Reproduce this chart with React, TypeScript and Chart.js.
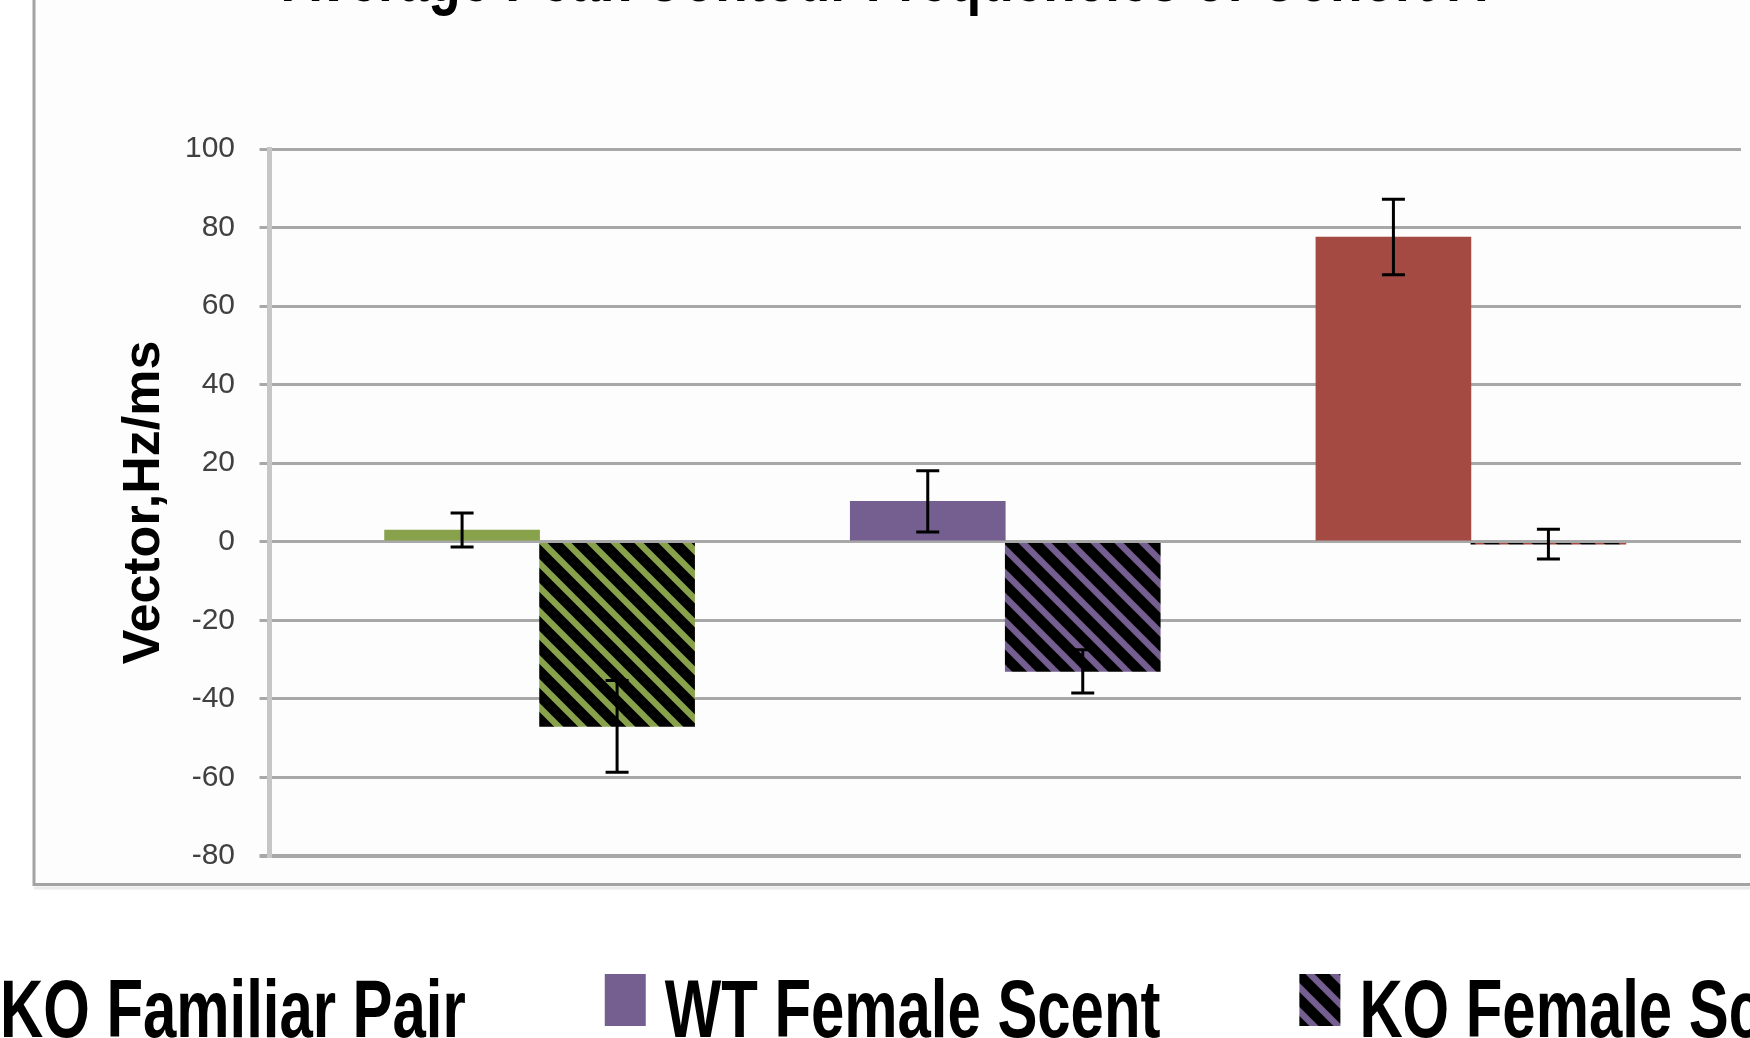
import React, { useEffect, useRef } from 'react';
import { Chart, registerables } from 'chart.js';

Chart.register(...registerables);

// ---- data ----
const TITLE = 'Average Peak Contour Frequencies of Cohort A';
const Y_TITLE = 'Vector,Hz/ms';
const conditions = ['Familiar Pair', 'Female Scent', 'Male Scent'];
const conditionX = [1, 2, 3];
const wtMeans = [3, 10.3, 77.6];
const wtErrors = [4.3, 7.8, 9.6];
const koMeans = [-47, -33, -0.6];
const koErrors = [11.7, 5.5, 3.8];
const yTickValues = [-80, -60, -40, -20, 0, 20, 40, 60, 80, 100];
const conditionColors = ['#88A24C', '#755F91', '#A44A42'];

function makeHatch(color: string): CanvasPattern | string {
  const size = 24;
  const c = document.createElement('canvas');
  c.width = size;
  c.height = size;
  const g = c.getContext('2d');
  if (!g) return color;
  g.fillStyle = '#000000';
  g.fillRect(0, 0, size, size);
  g.strokeStyle = color;
  g.lineWidth = 6.4;
  for (const o of [-size, 0, size]) {
    g.beginPath();
    g.moveTo(o - 6, -6);
    g.lineTo(o + size + 6, size + 6);
    g.stroke();
  }
  return g.createPattern(c, 'repeat') || color;
}

const LEGEND_FONT = 'bold 82px "Liberation Sans", Arial, sans-serif';
const LEGEND_SX = 0.73;

export default function App() {
  const ref = useRef<HTMLCanvasElement | null>(null);

  useEffect(() => {
    const canvas = ref.current;
    if (!canvas) return;
    const hatches = conditionColors.map((c) => makeHatch(c));
    const errorSets = [wtErrors, koErrors];

    const legendItems: { text: string; fill: any }[] = [];
    conditions.forEach((c, i) => {
      legendItems.push({ text: 'WT ' + c, fill: conditionColors[i] });
      legendItems.push({ text: 'KO ' + c, fill: hatches[i] });
    });

    const framePlugin = {
      id: 'frame',
      beforeDraw(chart: any) {
        const ctx = chart.ctx;
        ctx.save();
        ctx.fillStyle = '#ffffff';
        ctx.fillRect(0, 0, chart.width, chart.height);
        ctx.fillStyle = '#fdfdfd';
        ctx.fillRect(35, 0, chart.width, 848 + 35);
        ctx.strokeStyle = '#ebebeb';
        ctx.lineWidth = 3;
        ctx.beginPath();
        ctx.moveTo(34, 888);
        ctx.lineTo(chart.width, 888);
        ctx.stroke();
        ctx.strokeStyle = '#a3a3a3';
        ctx.lineWidth = 3;
        ctx.beginPath();
        ctx.moveTo(34, -5);
        ctx.lineTo(34, 884.5);
        ctx.lineTo(chart.width + 5, 884.5);
        ctx.stroke();
        ctx.restore();
      },
    };

    const errorBarsPlugin = {
      id: 'errorBars',
      afterDatasetsDraw(chart: any) {
        const ctx = chart.ctx;
        const yScale = chart.scales.y;
        chart.data.datasets.forEach((ds: any, di: number) => {
          const meta = chart.getDatasetMeta(di);
          const errs = errorSets[di];
          meta.data.forEach((bar: any, i: number) => {
            const v = ds.data[i].y;
            const e = errs[i];
            const top = yScale.getPixelForValue(v + e);
            const bot = yScale.getPixelForValue(v - e);
            ctx.save();
            ctx.strokeStyle = '#000000';
            ctx.lineWidth = 3;
            ctx.beginPath();
            ctx.moveTo(bar.x, top);
            ctx.lineTo(bar.x, bot);
            ctx.moveTo(bar.x - 11.5, top);
            ctx.lineTo(bar.x + 11.5, top);
            ctx.moveTo(bar.x - 11.5, bot);
            ctx.lineTo(bar.x + 11.5, bot);
            ctx.stroke();
            ctx.restore();
          });
        });
      },
    };

    const titlePlugin = {
      id: 'clippedTitle',
      afterDraw(chart: any) {
        const ctx = chart.ctx;
        ctx.save();
        ctx.fillStyle = '#000000';
        ctx.font = 'bold 70px "Liberation Sans", Arial, sans-serif';
        ctx.textAlign = 'center';
        ctx.textBaseline = 'alphabetic';
        ctx.translate(884.5, 1);
        ctx.scale(0.76, 1);
        ctx.fillText(TITLE, 0, 0);
        ctx.restore();
      },
    };

    const legendPlugin = {
      id: 'wideLegend',
      afterDraw(chart: any) {
        const ctx = chart.ctx;
        const boxW = 41;
        const boxH = 52;
        const gap = 19;
        const pad = 139;
        const boxTop = 974;
        const baseline = 1037;
        ctx.save();
        ctx.font = LEGEND_FONT;
        const widths = legendItems.map((it) => ctx.measureText(it.text).width * LEGEND_SX);
        // second item's box sits just left of the canvas edge
        let x = -60 - (boxW + gap + widths[0] + pad);
        legendItems.forEach((it, i) => {
          ctx.fillStyle = it.fill;
          ctx.fillRect(x, boxTop, boxW, boxH);
          const tx = x + boxW + gap;
          ctx.save();
          ctx.fillStyle = '#000000';
          ctx.textAlign = 'left';
          ctx.textBaseline = 'alphabetic';
          ctx.translate(tx, baseline);
          ctx.scale(LEGEND_SX, 1);
          ctx.fillText(it.text, 0, 0);
          ctx.restore();
          x = tx + widths[i] + pad;
        });
        ctx.restore();
      },
    };

    const chart = new Chart(canvas, {
      type: 'bar',
      data: {
        datasets: [
          {
            label: 'WT',
            data: conditionX.map((x, i) => ({ x, y: wtMeans[i] })),
            backgroundColor: conditionColors,
            borderWidth: 0,
          },
          {
            label: 'KO',
            data: conditionX.map((x, i) => ({ x, y: koMeans[i] })),
            backgroundColor: hatches as any,
            borderWidth: 0,
          },
        ],
      },
      options: {
        responsive: false,
        animation: false,
        devicePixelRatio: 1,
        barThickness: 155,
        layout: { padding: { top: 149, bottom: 182, left: 0, right: 9 } },
        plugins: {
          legend: { display: false },
          title: { display: false },
          tooltip: { enabled: false },
        },
        scales: {
          x: {
            type: 'linear',
            min: 0.42,
            max: 3.58,
            offset: false,
            display: false,
            grid: { display: false, offset: false },
          },
          y: {
            type: 'linear',
            min: -80,
            max: 100,
            afterBuildTicks: (s: any) => {
              s.ticks = yTickValues.map((v) => ({ value: v }));
            },
            afterFit: (s: any) => {
              s.width = 269.5;
            },
            ticks: {
              color: '#404040',
              font: { family: '"Liberation Sans", Arial, sans-serif', size: 30 },
              padding: 24.5,
            },
            grid: {
              color: '#a8a8a8',
              lineWidth: (c: any) => (c.tick && c.tick.value === -80 ? 4 : 3),
              drawTicks: true,
              tickLength: 10,
              tickColor: '#a8a8a8',
            },
            border: { display: true, color: '#c6c6c6', width: 5 },
            title: {
              display: true,
              text: Y_TITLE,
              color: '#000000',
              font: { family: '"Liberation Sans", Arial, sans-serif', size: 52, weight: 'bold' },
              padding: { top: 113, bottom: 0 },
            },
          },
        },
      } as any,
      plugins: [framePlugin, errorBarsPlugin, titlePlugin, legendPlugin],
    });

    return () => chart.destroy();
  }, []);

  return (
    <div style={{ position: 'absolute', left: 0, top: 0, width: 1750, height: 1038, overflow: 'hidden' }}>
      <canvas ref={ref} width={1750} height={1038} style={{ display: 'block' }} />
    </div>
  );
}
